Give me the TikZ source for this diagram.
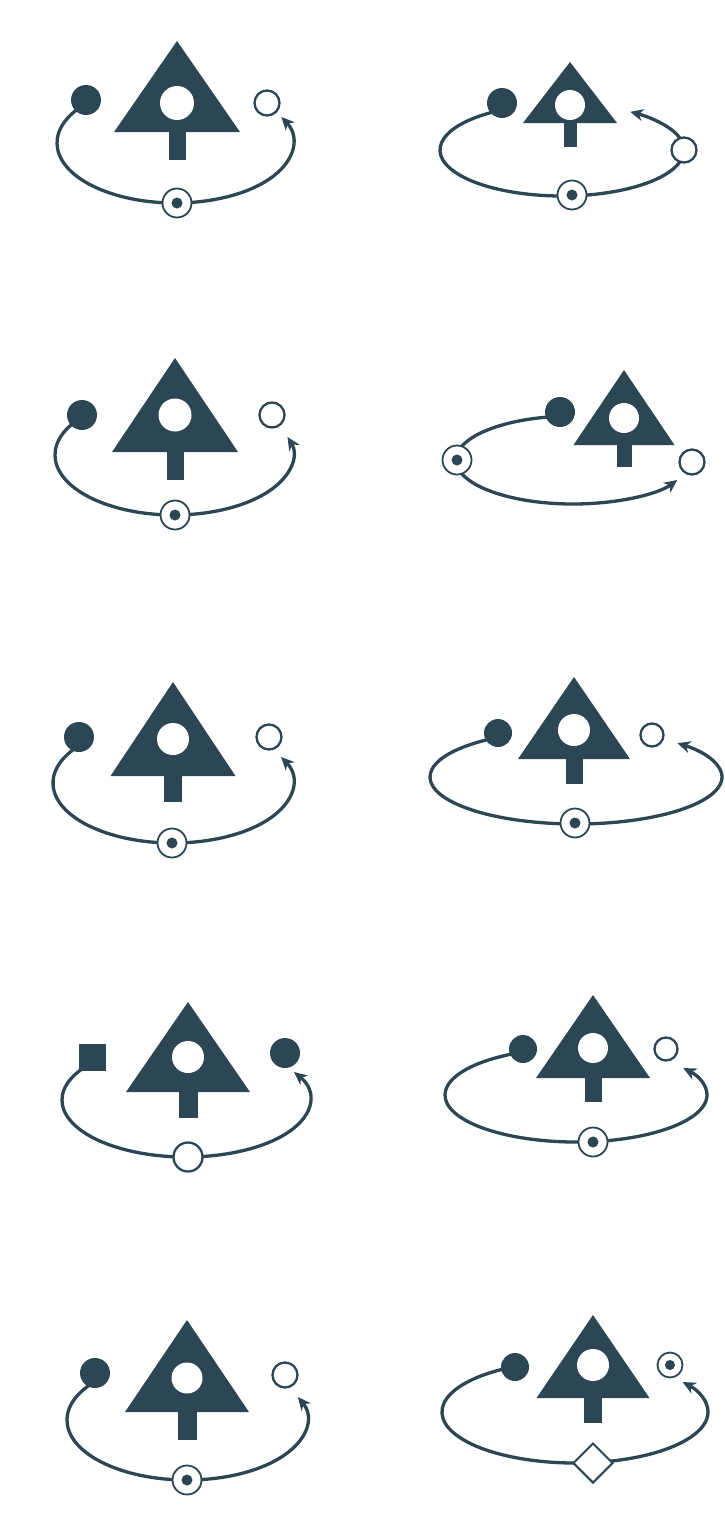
\documentclass[tikz,border=0pt]{standalone}
\usetikzlibrary{calc,arrows.meta,shapes.geometric}
\definecolor{ink}{RGB}{44,70,84}
\newcommand\treeglyph[8]{%
  \fill[ink] (#1,-#2) -- ({#1+#4},-#3) -- ({#1-#4},-#3) -- cycle;
  \fill[ink] ({#1-#7},{-#3+1}) rectangle ({#1+#7},-#8);
  \fill[white] (#1,-#5) circle (#6pt);
}
\tikzset{
  link/.style={draw=ink, line width=3.3pt},
  arr/.style={-{Stealth[length=13pt,width=12pt,inset=4pt]}},
  dotf/.style={circle, fill=ink, inner sep=0pt, minimum size=30pt},
  dotfs/.style={circle, fill=ink, inner sep=0pt, minimum size=28pt},
  dotw/.style={circle, draw=ink, fill=white, line width=2.3pt, inner sep=0pt, minimum size=25pt},
  dotws/.style={circle, draw=ink, fill=white, line width=2.3pt, inner sep=0pt, minimum size=23pt},
  dotwb/.style={circle, draw=ink, fill=white, line width=2.3pt, inner sep=0pt, minimum size=29pt},
  tgt/.style={circle, draw=ink, fill=white, line width=1.8pt, inner sep=0pt, minimum size=29pt,
    path picture={\fill[ink] (path picture bounding box.center) circle (5.5pt);}},
  tgts/.style={circle, draw=ink, fill=white, line width=1.8pt, inner sep=0pt, minimum size=25pt,
    path picture={\fill[ink] (path picture bounding box.center) circle (5pt);}},
  sqf/.style={rectangle, fill=ink, inner sep=0pt, minimum size=27pt},
  dia/.style={diamond, draw=ink, fill=white, line width=2pt, inner sep=0pt, minimum size=40pt},
}
\begin{document}
\begin{tikzpicture}[x=1pt,y=1pt]
\fill[white] (0,0) rectangle (724,-1537);
\useasboundingbox (0,0) rectangle (724,-1537);

% ---------- L1 ----------
\treeglyph{177}{41}{132}{63}{103}{17}{8.5}{160}
\coordinate (l1c) at (175,-143);
\coordinate (l1s) at ($(l1c)+(146.6:118pt and 60pt)$);
\draw[link,arr] (l1s) arc[start angle=146.6, end angle=385.7, x radius=118pt, y radius=60pt];
\node[dotf] (l1a) at (86,-100) {};
\node[dotw] (l1b) at (267,-103) {};
\node[tgt] (l1t) at (177,-203) {};

% ---------- L2 ----------
\treeglyph{175}{358}{452}{63}{415}{16.5}{8.5}{480}
\coordinate (l2c) at (174,-455);
\coordinate (l2s) at ($(l2c)+(146.6:119pt and 60pt)$);
\draw[link,arr] (l2s) arc[start angle=146.6, end angle=377.5, x radius=119pt, y radius=60pt];
\node[dotf] (l2a) at (82,-415) {};
\node[dotw] (l2b) at (272,-415) {};
\node[tgt] (l2t) at (175,-515) {};

% ---------- L3 ----------
\treeglyph{173}{682}{776}{62.5}{739}{16}{9}{802}
\coordinate (l3c) at (173,-783);
\coordinate (l3s) at ($(l3c)+(143:120pt and 60pt)$);
\draw[link,arr] (l3s) arc[start angle=143, end angle=385.7, x radius=120pt, y radius=60pt];
\node[dotf] (l3a) at (79,-737) {};
\node[dotw] (l3b) at (269,-737) {};
\node[tgt] (l3t) at (172,-843) {};

% ---------- L4 ----------
\treeglyph{188}{1002}{1092}{62}{1057}{16}{9.5}{1118}
\coordinate (l4c) at (186,-1100);
\coordinate (l4s) at ($(l4c)+(146:124pt and 57pt)$);
\draw[link,arr] (l4s) arc[start angle=146, end angle=389.4, x radius=124pt, y radius=57pt];
\node[sqf] (l4a) at (92,-1057) {};
\node[dotf] (l4b) at (285,-1053) {};
\node[dotwb] (l4t) at (188,-1157) {};

% ---------- L5 ----------
\treeglyph{187}{1320}{1412}{62}{1378}{15.5}{9.5}{1440}
\coordinate (l5c) at (187,-1420);
\coordinate (l5s) at ($(l5c)+(140:120pt and 60pt)$);
\draw[link,arr] (l5s) arc[start angle=140, end angle=382.5, x radius=120pt, y radius=60pt];
\node[dotf] (l5a) at (95,-1373) {};
\node[dotw] (l5b) at (285,-1375) {};
\node[tgt] (l5t) at (187,-1480) {};

% ---------- R1 ----------
\treeglyph{570}{62}{123}{47}{105}{15}{6.5}{147}
\coordinate (r1c) at (562,-150);
\coordinate (r1s) at ($(r1c)+(120:122pt and 46pt)$);
\draw[link,arr] (r1s) arc[start angle=120, end angle=416, x radius=122pt, y radius=46pt];
\node[dotf] (r1a) at (502,-103) {};
\node[tgt] (r1t) at (572,-195) {};
\node[dotw] (r1b) at (684,-150) {};

% ---------- R2 ----------
\treeglyph{624}{370}{445}{50.5}{418}{15}{7.5}{467}
\coordinate (r2c) at (573,-460);
\coordinate (r2s) at ($(r2c)+(95:117pt and 44pt)$);
\draw[link,arr] (r2s) arc[start angle=95, end angle=333, x radius=117pt, y radius=44pt];
\node[dotf] (r2a) at (560,-412) {};
\node[tgt] (r2t) at (457,-460) {};
\node[dotw] (r2b) at (692,-462) {};

% ---------- R3 ----------
\treeglyph{574}{677}{759}{56}{730}{16}{8.5}{784}
\coordinate (r3c) at (576,-777);
\coordinate (r3s) at ($(r3c)+(125:146pt and 47pt)$);
\draw[link,arr] (r3s) arc[start angle=125, end angle=406, x radius=146pt, y radius=47pt];
\node[dotfs] (r3a) at (498,-733) {};
\node[dotws] (r3b) at (652,-735) {};
\node[tgt] (r3t) at (575,-823) {};

% ---------- R4 ----------
\treeglyph{593}{995}{1078}{57}{1048}{15}{8.5}{1102}
\coordinate (r4c) at (576,-1095);
\coordinate (r4s) at ($(r4c)+(118:131pt and 47pt)$);
\draw[link,arr] (r4s) arc[start angle=118, end angle=395, x radius=131pt, y radius=47pt];
\node[dotfs] (r4a) at (523,-1049) {};
\node[dotws] (r4b) at (666,-1049) {};
\node[tgt] (r4t) at (593,-1142) {};

% ---------- R5 ----------
\treeglyph{593}{1315}{1398}{56.5}{1365}{16}{9}{1423}
\coordinate (r5c) at (575,-1412);
\coordinate (r5s) at ($(r5c)+(120:133pt and 51pt)$);
\draw[link,arr] (r5s) arc[start angle=120, end angle=396, x radius=133pt, y radius=51pt];
\node[dotfs] (r5a) at (515,-1367) {};
\node[tgts] (r5b) at (670,-1365) {};
\node[dia] (r5t) at (593,-1463) {};
\end{tikzpicture}
\end{document}
